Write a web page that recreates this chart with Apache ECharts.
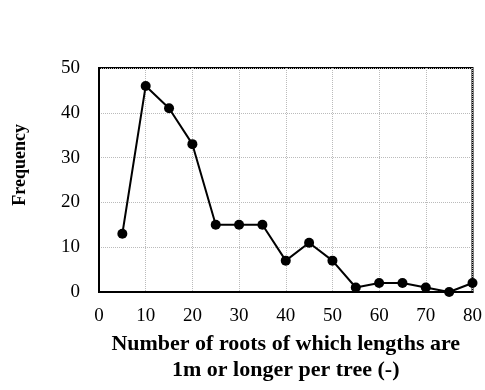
<!DOCTYPE html>
<html>
<head>
<meta charset="utf-8">
<script src="https://cdn.jsdelivr.net/npm/echarts@6/dist/echarts.min.js"></script>
<style>html,body{margin:0;padding:0;background:#fff;}#c{width:485px;height:390px;}</style>
</head>
<body>
<div id="c"></div>
<script>
var roots = [5, 10, 15, 20, 25, 30, 35, 40, 45, 50, 55, 60, 65, 70, 75, 80];
var frequency = [13, 46, 41, 33, 15, 15, 15, 7, 11, 7, 1, 2, 2, 1, 0, 2];
var xTicks = [0, 10, 20, 30, 40, 50, 60, 70, 80];
var yTicks = [0, 10, 20, 30, 40, 50];
var xTitle = 'Number of roots of which lengths are\n1m or longer per tree (-)';
var yTitle = 'Frequency';

var chart = echarts.init(document.getElementById('c'));
var font = '"Liberation Serif", "Times New Roman", serif';
chart.setOption({
  animation: false,
  grid: {left: 99, right: 12, top: 68, bottom: 98, show: true, borderColor: '#000', borderWidth: 2, backgroundColor: 'transparent'},
  xAxis: {
    type: 'value', min: xTicks[0], max: xTicks[xTicks.length - 1], interval: 10,
    axisLine: {show: true, onZero: false, lineStyle: {color: '#000', width: 2}},
    axisTick: {show: false},
    splitLine: {show: true, lineStyle: {color: '#bbb', type: 'dotted', width: 1}},
    axisLabel: {color: '#000', fontFamily: font, fontSize: 19, margin: 15},
    name: xTitle, nameLocation: 'middle', nameGap: 31,
    nameTextStyle: {color: '#000', fontFamily: font, fontSize: 22, fontWeight: 'bold', lineHeight: 26}
  },
  yAxis: {
    type: 'value', min: yTicks[0], max: yTicks[yTicks.length - 1], interval: 10,
    axisLine: {show: true, lineStyle: {color: '#000', width: 2}},
    axisTick: {show: false},
    splitLine: {show: true, lineStyle: {color: '#bbb', type: 'dotted', width: 1}},
    axisLabel: {color: '#000', fontFamily: font, fontSize: 19, margin: 19}
  },
  graphic: [{
    type: 'text', left: 11, top: 124, rotation: Math.PI / 2,
    style: {text: yTitle, fill: '#000', font: 'bold 18px ' + font}
  }],
  series: [{
    type: 'line',
    data: roots.map(function (r, i) { return [r, frequency[i]]; }),
    symbol: 'circle', symbolSize: 10,
    itemStyle: {color: '#000'},
    lineStyle: {color: '#000', width: 2},
    clip: false
  }]
});
</script>
</body>
</html>
